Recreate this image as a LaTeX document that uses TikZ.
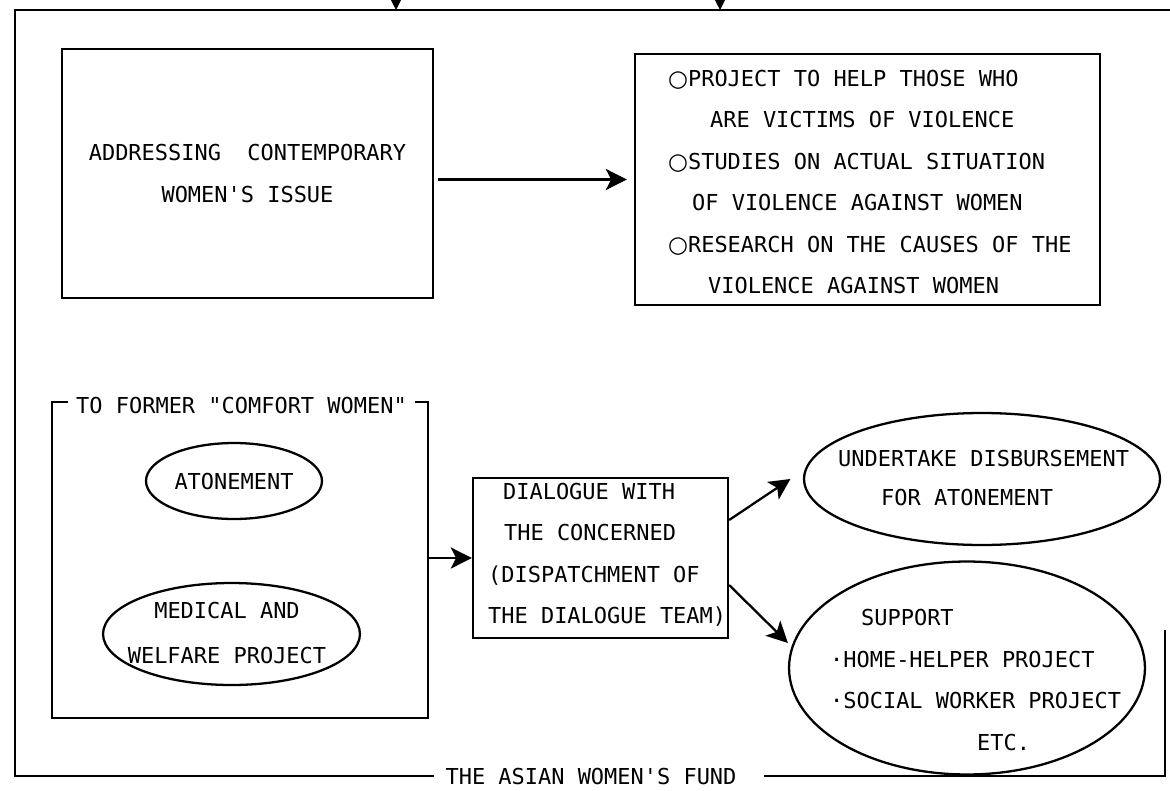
\documentclass[tikz,border=0pt]{standalone}
\usepackage{fontspec}
\setmonofont{DejaVu Sans Mono}
\newfontfamily\symfont{DejaVu Sans}
\usetikzlibrary{positioning,shapes.geometric,arrows.meta}
\newcommand{\diagfont}{\ttfamily\fontsize{12.5pt}{23.6pt}\selectfont}
\newcommand{\ring}{{\symfont\fontsize{13pt}{13pt}\selectfont ○}}

\begin{document}
\begin{tikzpicture}[x=0.02cm, y=-0.02cm, line width=1.3pt]
\tikzstyle{every node}=[font=\diagfont, inner sep=0pt]
\tikzstyle{box}=[draw, rectangle]
\tikzstyle{oval}=[draw, ellipse]
\tikzstyle{lines}=[align=left, anchor=west]
\tikzstyle{arr}=[-{Stealth[length=12pt, width=12pt, inset=3pt]}]
\useasboundingbox (0,0) rectangle (1170,791);

% outer frame of the fund
\coordinate (tl) at (15,10);
\coordinate (tr) at (1170,10);
\coordinate (bl) at (15,776);
\coordinate (br) at (1165,776);
\coordinate (rt) at (1165,630);
\node (fund) at (591,776) {THE ASIAN WOMEN'S FUND};
\draw (tr) -- (tl) -- (bl) -- ([xshift=-0.2cm]fund.west |- bl);
\draw ([xshift=0.52cm]fund.east |- br) -- (br) -- (rt);
\coordinate (feedA) at (396,-40);
\coordinate (feedB) at (720,-40);
\draw[arr] (feedA) -- (feedA |- tl);
\draw[arr] (feedB) -- (feedB |- tl);

\node[box, minimum width=7.42cm, minimum height=4.98cm, align=center] (issue) at (247.5,173.5)
  {ADDRESSING~~CONTEMPORARY\\WOMEN'S ISSUE};
\node[box, minimum width=9.3cm, minimum height=5.02cm] (projects) at (867.5,179.5) {};
\node[lines] (projtxt) at (667,182) {\ring PROJECT TO HELP THOSE WHO\\
  \hspace*{0.84cm}ARE VICTIMS OF VIOLENCE\\
  \ring STUDIES ON ACTUAL SITUATION\\
  \hspace*{0.48cm}OF VIOLENCE AGAINST WOMEN\\
  \ring RESEARCH ON THE CAUSES OF THE\\
  \hspace*{0.8cm}VIOLENCE AGAINST WOMEN};

% former comfort women
\node[minimum width=7.48cm, minimum height=6.28cm] (comfort) at (240,560) {};
\node[inner xsep=0.14cm] (former) at (241.5,406) {TO FORMER "COMFORT WOMEN"};
\draw (former.west |- comfort.north) -| (comfort.south west) -| (comfort.north east)
  -- (former.east |- comfort.north);
\node[oval, minimum width=3.52cm, minimum height=1.52cm] (atone) at (234,481) {ATONEMENT};
\node[oval, minimum width=5.14cm, minimum height=2.04cm] (medical) at (231.5,634) {};
\node[align=center] (medtxt) at (227,633) {MEDICAL AND\\[1.9pt]WELFARE PROJECT};

\node[box, minimum width=5.1cm, minimum height=3.2cm] (dialogue) at (600.5,558) {};
\node[lines] (dialtxt) at (487,555) {\hspace*{0.3cm}DIALOGUE WITH\\
  \hspace*{0.32cm}THE CONCERNED\\
  (DISPATCHMENT OF\\
  THE DIALOGUE TEAM)};

\node[oval, minimum width=7.12cm, minimum height=2.64cm] (undertake) at (982,479) {};
\node[lines] (undtxt) at (837,478) {UNDERTAKE DISBURSEMENT\\[-1.4pt]
  \hspace*{0.86cm}FOR ATONEMENT};
\node[oval, minimum width=7.12cm, minimum height=4.26cm] (support) at (967,668) {};
\node[lines] (suptxt) at (829,680) {\hspace*{0.62cm}SUPPORT\\
  ·HOME-HELPER PROJECT\\
  ·SOCIAL WORKER PROJECT\\
  \hspace*{2.94cm}ETC.};

\draw[arr, shorten <=2pt, shorten >=4pt] (issue.east |- projects.west) -- (projects.west);
\draw[arr] (comfort.east |- dialogue.west) -- (dialogue.west);
\draw[arr] ([yshift=0.76cm]dialogue.east) -- ([xshift=-0.25cm]undertake.west);
\draw[arr] ([yshift=-0.54cm]dialogue.east) -- ([yshift=0.5cm]support.west);
\end{tikzpicture}
\end{document}
